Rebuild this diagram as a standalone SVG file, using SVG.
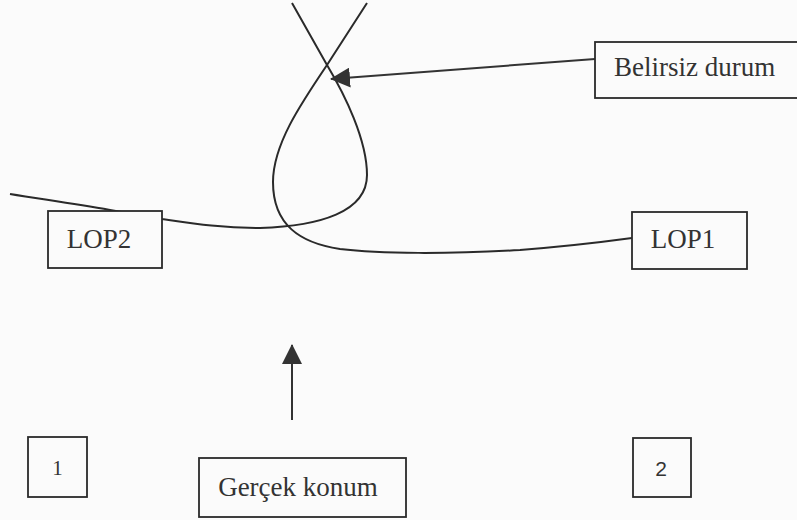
<svg xmlns="http://www.w3.org/2000/svg" width="797" height="520" viewBox="0 0 797 520">
<defs>
<style>
.bg{fill:#fbfbfb}
.box{fill:#fbfbfb;stroke:#2a2a2a;stroke-width:1.8}
.lop{fill:none;stroke:#2a2a2a;stroke-width:2}
.arr{fill:none;stroke:#333;stroke-width:2}
.t{font-family:"Liberation Serif","Times New Roman",serif;font-size:27px;fill:#333}
.s{font-family:"Liberation Sans",Arial,sans-serif;font-size:21px;fill:#333}
</style>
<marker id="ah" markerUnits="userSpaceOnUse" markerWidth="20" markerHeight="20" viewBox="0 0 20 20" refX="19" refY="10" orient="auto">
<path d="M0,0 L20,10 L0,20 z" fill="#333"/>
</marker>
</defs>
<rect class="bg" x="0" y="0" width="797" height="520"/>
<g id="connectors">
<path class="lop" d="M292,3 L327,65 C345,95 367,140 367,175 C367,212 320,226 260,228 C220,228 190,223 162,219 L110,210 C70,203 40,199 10,194"/>
<path class="lop" d="M367,3 L327,65 C300,105 273,145 273,182 C273,225 300,243 340,249 C380,254 450,254 520,250 C570,246 610,241 632,238"/>
<line class="arr" x1="595" y1="59" x2="331" y2="79" marker-end="url(#ah)"/>
<line class="arr" x1="292" y1="420" x2="292" y2="345" marker-end="url(#ah)"/>
</g>
<g id="belirsiz">
<rect class="box" x="595" y="42" width="215" height="56"/>
<text class="t" x="614" y="76">Belirsiz durum</text>
</g>
<g id="lop2">
<rect class="box" x="48" y="211" width="114" height="57"/>
<text class="t" x="99" y="248" text-anchor="middle">LOP2</text>
</g>
<g id="lop1">
<rect class="box" x="632" y="212" width="115" height="57"/>
<text class="t" x="683" y="248" text-anchor="middle">LOP1</text>
</g>
<g id="n1">
<rect class="box" x="28" y="437" width="59" height="60"/>
<text class="t" x="57.5" y="475" text-anchor="middle" style="font-size:21px">1</text>
</g>
<g id="gercek">
<rect class="box" x="199" y="458" width="207" height="59"/>
<text class="t" x="298" y="496" text-anchor="middle">Gerçek konum</text>
</g>
<g id="n2">
<rect class="box" x="633" y="438" width="58" height="59"/>
<text class="s" x="661" y="476" text-anchor="middle">2</text>
</g>
</svg>
